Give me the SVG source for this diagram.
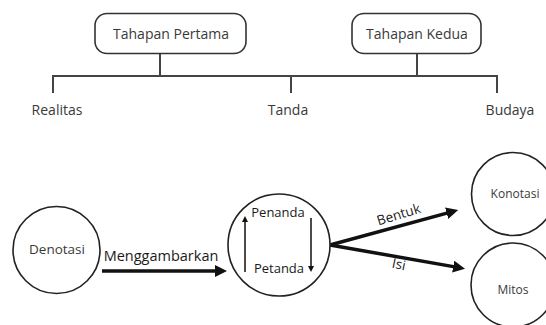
<svg xmlns="http://www.w3.org/2000/svg" width="546" height="325" viewBox="0 0 546 325">
<defs>
<style>
.lbl{font-family:"Open Sans","Liberation Sans",sans-serif;fill:#3a3a3a;text-anchor:middle}
.dk{font-family:"Open Sans","Liberation Sans",sans-serif;fill:#1a1a1a;text-anchor:middle}
.box{fill:#fff;stroke:#333;stroke-width:1.6}
.circ{fill:#fff;stroke:#222;stroke-width:1.6}
.tree{stroke:#444;stroke-width:2;fill:none}
.big{stroke:#111;stroke-width:3.5;fill:none}
.thin{stroke:#111;stroke-width:1.5;fill:none}
</style>
<marker id="ah" viewBox="0 0 12 12" markerWidth="12" markerHeight="12" refX="6" refY="6" orient="auto" markerUnits="userSpaceOnUse">
<path d="M0,0 L12,6 L0,12 z" fill="#111"/>
</marker>
<marker id="as" viewBox="0 0 6 6" markerWidth="6" markerHeight="6" refX="3" refY="3" orient="auto" markerUnits="userSpaceOnUse">
<path d="M0,0 L6,3 L0,6 z" fill="#111"/>
</marker>
</defs>
<rect width="546" height="325" fill="#fff"/>
<g id="connectors">
<path class="tree" d="M160,53 V76 M417,54 V76 M53,76 H497 M53,75 V93 M291,76 V93 M497,75 V93"/>
<line class="big" x1="102" y1="271" x2="221" y2="271" marker-end="url(#ah)"/>
<line class="big" x1="330" y1="245" x2="452.4" y2="211.6" marker-end="url(#ah)"/>
<line class="big" x1="330" y1="245" x2="459.1" y2="267.6" marker-end="url(#ah)"/>
</g>
<g id="tahapan-pertama">
<rect class="box" x="95" y="13.5" width="151" height="40" rx="12"/>
<text class="lbl" x="171" y="39" font-size="14">Tahapan Pertama</text>
</g>
<g id="tahapan-kedua">
<rect class="box" x="352" y="13.5" width="129" height="40" rx="12"/>
<text class="lbl" x="417" y="39" font-size="14">Tahapan Kedua</text>
</g>
<g id="realitas"><text class="lbl" x="57" y="115" font-size="14">Realitas</text></g>
<g id="tanda"><text class="lbl" x="288" y="115" font-size="14">Tanda</text></g>
<g id="budaya"><text class="lbl" x="510" y="115" font-size="14">Budaya</text></g>
<g id="denotasi">
<circle class="circ" cx="56.5" cy="250" r="43.5"/>
<text class="lbl" x="57" y="254" font-size="13.5">Denotasi</text>
</g>
<g id="label-menggambarkan"><text class="dk" x="161" y="261" font-size="14.5">Menggambarkan</text></g>
<g id="tanda-circle">
<circle class="circ" cx="279" cy="245" r="51"/>
<text class="dk" x="278" y="217" font-size="13">Penanda</text>
<text class="dk" x="279" y="273" font-size="13">Petanda</text>
<line class="thin" x1="245" y1="272" x2="245" y2="219" marker-end="url(#as)"/>
<line class="thin" x1="311" y1="218" x2="311" y2="269" marker-end="url(#as)"/>
</g>
<g id="label-bentuk"><text class="dk" x="0" y="0" font-size="13.5" transform="translate(400,219) rotate(-17)">Bentuk</text></g>
<g id="label-isi"><text class="dk" x="0" y="0" font-size="13.5" transform="translate(398,269) rotate(12)">Isi</text></g>
<g id="konotasi">
<circle class="circ" cx="513" cy="194" r="41.5"/>
<text class="lbl" x="515" y="198" font-size="12">Konotasi</text>
</g>
<g id="mitos">
<circle class="circ" cx="513" cy="285" r="42"/>
<text class="lbl" x="513" y="294" font-size="12">Mitos</text>
</g>
</svg>
